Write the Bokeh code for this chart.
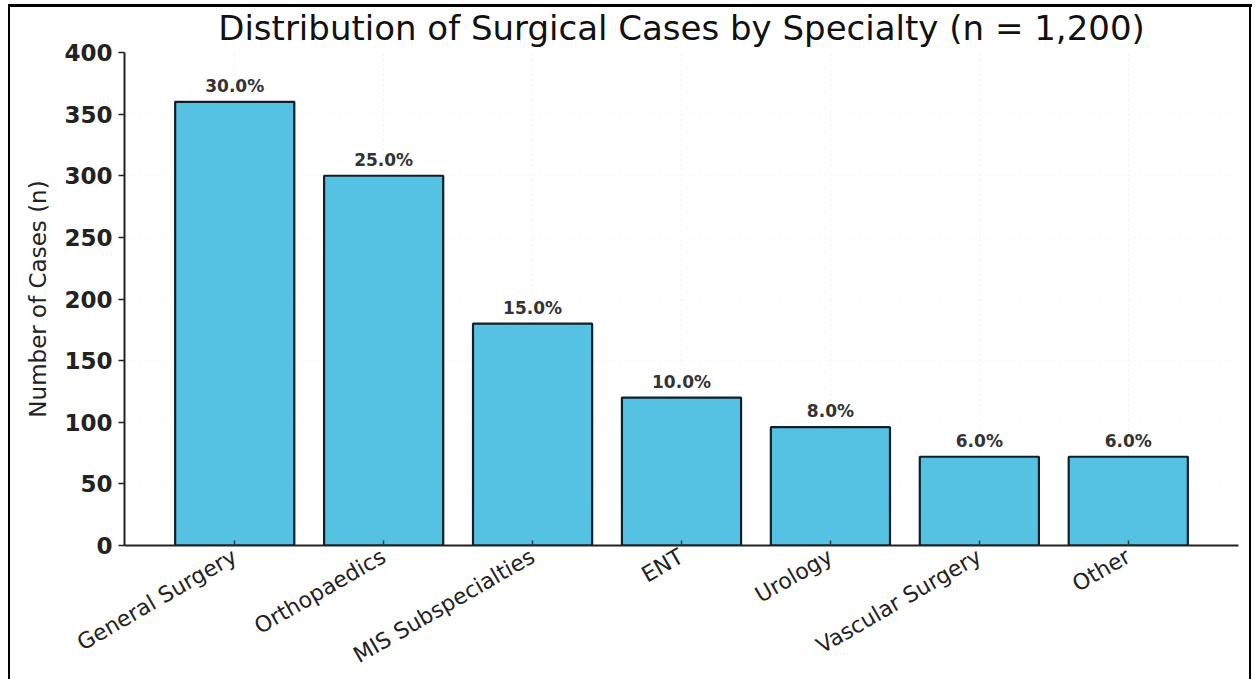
from math import pi
from bokeh.plotting import figure
from bokeh.models import ColumnDataSource, FactorRange, Range1d, FixedTicker
from bokeh.core.properties import value
from bokeh.embed import file_html
from bokeh.resources import INLINE

# ---- data ----
specialties = ["General Surgery", "Orthopaedics", "MIS Subspecialties", "ENT",
               "Urology", "Vascular Surgery", "Other"]
cases = [360, 300, 180, 120, 96, 72, 72]
percent_labels = ["30.0%", "25.0%", "15.0%", "10.0%", "8.0%", "6.0%", "6.0%"]
y_ticks = [0, 50, 100, 150, 200, 250, 300, 350, 400]
title_text = "Distribution of Surgical Cases by Specialty (n = 1,200)"
y_label = "Number of Cases (n)"

FONT = "DejaVu Sans"

src = ColumnDataSource(dict(x=specialties, y=cases, lab=percent_labels))

p = figure(
    frame_width=1114, frame_height=493,
    x_range=FactorRange(factors=specialties, range_padding=0.0686),
    y_range=Range1d(y_ticks[0], y_ticks[-1]),
    output_backend="svg", toolbar_location=None,
    min_border_left=124, min_border_right=17, min_border_top=52, min_border_bottom=134,
)

p.title.text = title_text
p.title.align = "center"
p.title.text_font = FONT
p.title.text_font_size = "34px"
p.title.text_font_style = "normal"
p.title.text_color = "#111111"
p.title.standoff = 9

p.outline_line_color = None
p.background_fill_color = "white"
p.border_fill_alpha = 0

# faint dotted grid
p.xgrid.grid_line_color = "#999999"
p.xgrid.grid_line_alpha = 0.25
p.xgrid.grid_line_dash = "1 4"
p.ygrid.grid_line_color = "#999999"
p.ygrid.grid_line_alpha = 0.15
p.ygrid.grid_line_dash = "1 4"
p.ygrid.ticker = FixedTicker(ticks=y_ticks)

# bars
p.vbar(x="x", top="y", width=0.8, source=src,
       fill_color="#55C1E3", line_color="#10202a", line_width=2.2)

# percentage labels
p.text(x="x", y="y", text="lab", source=src, text_align="center",
       text_baseline="bottom", y_offset=-6,
       text_font=value(FONT), text_font_size="17px", text_font_style="bold",
       text_color="#333333")

# page frame lines (document border) drawn with CSS behind transparent canvas border
p.styles = {
    "background-color": "white",
    "background-image": ("linear-gradient(#000,#000), linear-gradient(#000,#000), "
                         "linear-gradient(#000,#000)"),
    "background-size": "2px 100%, 1244px 3px, 2px 100%",
    "background-position": "8px 5px, 8px 4px, 1249px 5px",
    "background-repeat": "no-repeat",
}

# y axis
ya = p.yaxis[0]
ya.ticker = FixedTicker(ticks=y_ticks)
ya.axis_label = y_label
ya.axis_label_text_font = FONT
ya.axis_label_text_font_size = "23px"
ya.axis_label_text_font_style = "normal"
ya.axis_label_text_color = "#222222"
ya.axis_label_standoff = 10
ya.major_label_text_font = FONT
ya.major_label_text_font_size = "23px"
ya.major_label_text_font_style = "bold"
ya.major_label_text_color = "#222222"
ya.major_label_standoff = 6
ya.major_tick_out = 6
ya.major_tick_in = 0
ya.minor_tick_line_color = None
ya.axis_line_width = 2
ya.axis_line_color = "#222222"
ya.major_tick_line_width = 1.5
ya.major_tick_line_color = "#222222"

# x axis
xa = p.xaxis[0]
xa.major_label_orientation = pi / 6
xa.major_label_text_font = FONT
xa.major_label_text_font_size = "22px"
xa.major_label_text_font_style = "normal"
xa.major_label_text_color = "#222222"
xa.major_label_standoff = 9
xa.major_tick_in = 5
xa.major_tick_out = 0
xa.major_tick_line_width = 1.5
xa.major_tick_line_color = "#1d3d4d"
xa.axis_line_width = 2
xa.axis_line_color = "#222222"

open("out.html", "w").write(file_html(p, INLINE))
